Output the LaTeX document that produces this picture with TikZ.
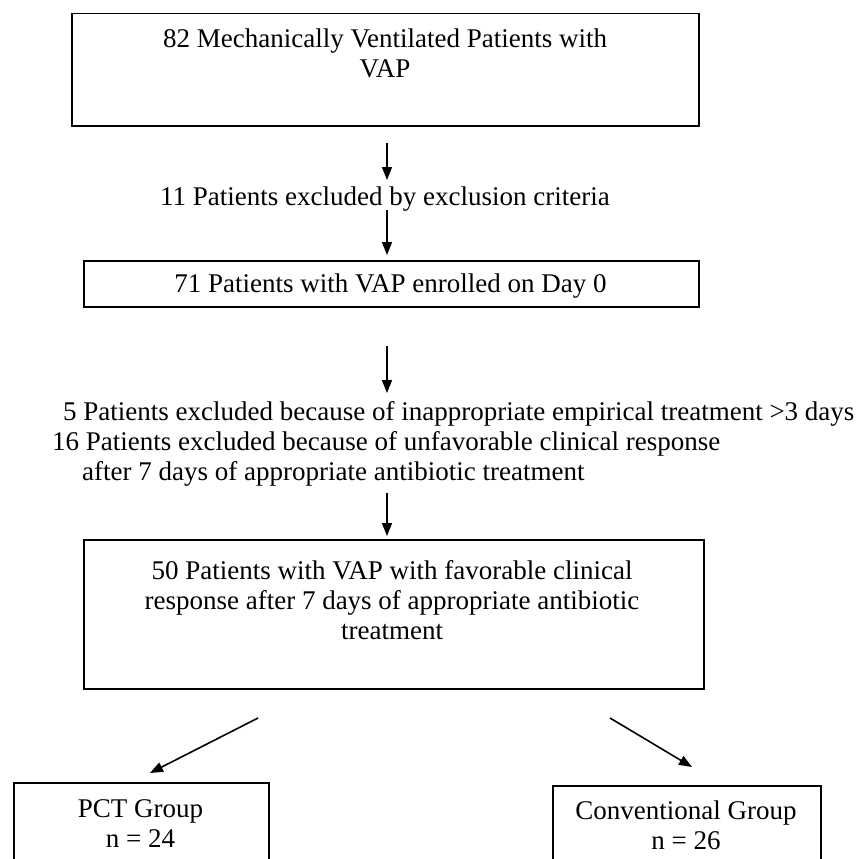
\documentclass[tikz,border=0pt]{standalone}
\usepackage{fontspec}
\setmainfont{Liberation Serif}
\usetikzlibrary{arrows.meta}
\begin{document}
\begin{tikzpicture}[x=1pt,y=-1pt,
  box/.style={draw, line width=1.5pt, inner sep=0pt},
  txt/.style={font=\fontsize{27}{30}\selectfont, inner sep=0pt, align=center},
  arr/.style={line width=1.6pt, -{Triangle[length=13pt,width=10pt]}}]
\useasboundingbox (0,0) rectangle (862,859);
\clip (0,0) rectangle (862,859);
\fill[white] (0,0) rectangle (862,859);
% boxes
\node[box, minimum width=627pt, minimum height=112pt, anchor=north west] (b1) at (71,13) {};
\node[box, minimum width=615pt, minimum height=46pt, anchor=north west] (b2) at (83,260) {};
\node[box, minimum width=620pt, minimum height=149pt, anchor=north west] (b3) at (83,539) {};
\node[box, minimum width=255pt, minimum height=120pt, anchor=north west] (b4) at (13,782) {};
\node[box, minimum width=268pt, minimum height=120pt, anchor=north west] (b5) at (552,785) {};
% texts
\node[txt, anchor=north] (t1) at (385,26) {\strut 82 Mechanically Ventilated Patients with\\VAP};
\node[txt, anchor=base] (t2) at (385,205) {11 Patients excluded by exclusion criteria};
\node[txt, anchor=base] (t3) at (390.5,292) {71 Patients with VAP enrolled on Day 0};
\node[txt, align=left, anchor=north west] (t4) at (52,399) {\strut\hspace{11pt}5 Patients excluded because of inappropriate empirical treatment >3 days\\16 Patients excluded because of unfavorable clinical response\\\hspace{30pt}after 7 days of appropriate antibiotic treatment};
\node[txt, anchor=north] (t5) at (392,558) {\strut 50 Patients with VAP with favorable clinical\\response after 7 days of appropriate antibiotic\\treatment};
\node[txt, anchor=north] (t6) at (140.5,796) {\strut PCT Group\\n = 24};
\node[txt, anchor=north] (t7) at (686,798) {\strut Conventional Group\\n = 26};
% connector ends
\coordinate (a1s) at (387,143); \coordinate (a1e) at (387,180);
\coordinate (a2s) at (387,210); \coordinate (a2e) at (387,255);
\coordinate (a3s) at (387,346); \coordinate (a3e) at (387,393);
\coordinate (a4s) at (387,493); \coordinate (a4e) at (387,536);
\coordinate (a5s) at (258,718); \coordinate (a5e) at (150,773);
\coordinate (a6s) at (610,718); \coordinate (a6e) at (692,767);
\draw[arr] (a1s) -- (a1e);
\draw[arr] (a2s) -- (a2e);
\draw[arr] (a3s) -- (a3e);
\draw[arr] (a4s) -- (a4e);
\draw[arr] (a5s) -- (a5e);
\draw[arr] (a6s) -- (a6e);
\end{tikzpicture}
\end{document}
